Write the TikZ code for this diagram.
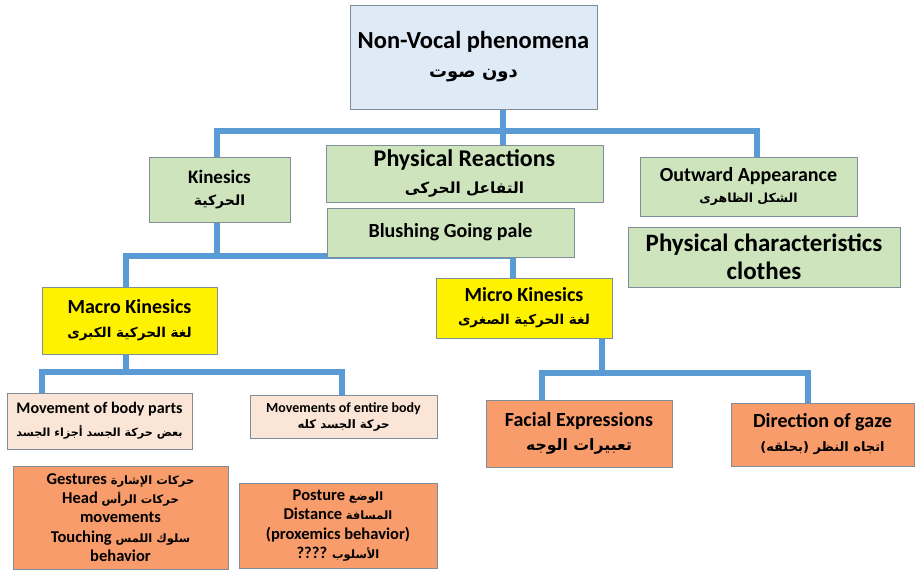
\documentclass[tikz,border=0pt]{standalone}
\usepackage{fontspec}
\setmainfont{Carlito}
\newfontfamily\arfont[Script=Arabic]{DejaVu Sans}
\TeXXeTstate=1
\usetikzlibrary{backgrounds}
% Arabic font at a given size
\newcommand{\arsize}[1]{\arfont\fontsize{#1}{#1}\selectfont\bfseries}
\definecolor{linkblue}{HTML}{5B9BD5}
\definecolor{topfill}{HTML}{DEEBF7}
\definecolor{greenfill}{HTML}{CDE4BD}
\definecolor{peachfill}{HTML}{FBE5D6}
\definecolor{orangefill}{HTML}{F89C6C}
\definecolor{boxline}{HTML}{7F8C9A}

\begin{document}
\begin{tikzpicture}[x=1pt,y=-1pt]
    \tikzstyle{every node}=[align=center,inner sep=2pt]
    \tikzstyle{box}=[draw=boxline,line width=0.9pt]
    \tikzstyle{topbox}=[box,fill=topfill]
    \tikzstyle{greenbox}=[box,fill=greenfill]
    \tikzstyle{yellowbox}=[box,fill=yellow]
    \tikzstyle{peachbox}=[box,fill=peachfill]
    \tikzstyle{orangebox}=[box,fill=orangefill]
    \tikzstyle{link}=[draw=linkblue,line width=6pt]
    \useasboundingbox (0,0) rectangle (918,579);
    % boxes
    \node[topbox,minimum width=247pt,minimum height=104pt,font=\fontsize{24.5}{29}\selectfont\bfseries]
        (top) at (473.5,57) {Non-Vocal phenomena\\ {\arsize{18}\beginR دون صوت\endR}};
    \node[greenbox,minimum width=141pt,minimum height=65pt,font=\fontsize{19}{22}\selectfont\bfseries]
        (kin) at (219.5,189.5) {Kinesics\\ {\arsize{14}\beginR الحركية\endR}};
    \node[greenbox,minimum width=277pt,minimum height=57pt,font=\fontsize{24}{27}\selectfont\bfseries]
        (phys) at (464.5,173.5) {Physical Reactions\\ {\arsize{15.3}\beginR التفاعل الحركى\endR}};
    \node[greenbox,minimum width=247pt,minimum height=49pt,font=\fontsize{20}{24}\selectfont\bfseries]
        (blush) at (450.5,232.5) {Blushing Going pale};
    \node[greenbox,minimum width=217pt,minimum height=59pt,font=\fontsize{20}{21}\selectfont\bfseries]
        (outw) at (748.5,186.5) {Outward Appearance\\ {\arsize{12.5}\beginR الشكل الظاهرى\endR}};
    \node[greenbox,minimum width=272pt,minimum height=60pt,font=\fontsize{25}{28}\selectfont\bfseries]
        (pchar) at (764,257) {Physical characteristics\\ clothes};
    \node[yellowbox,minimum width=175pt,minimum height=67pt,font=\fontsize{20}{24}\selectfont\bfseries]
        (macro) at (129.5,320.5) {Macro Kinesics\\ {\arsize{13.6}\beginR لغة الحركية الكبرى\endR}};
    \node[yellowbox,minimum width=176pt,minimum height=60pt,font=\fontsize{20}{23}\selectfont\bfseries]
        (micro) at (524,308) {Micro Kinesics\\ {\arsize{13.6}\beginR لغة الحركية الصغرى\endR}};
    \node[peachbox,minimum width=185pt,minimum height=56pt,font=\fontsize{16.1}{23}\selectfont\bfseries]
        (bodyp) at (99.5,421) {Movement of body parts\\ {\arsize{11.2}\beginR بعض حركة الجسد أجزاء الجسد\endR}};
    \node[peachbox,minimum width=187pt,minimum height=43pt,font=\fontsize{14}{16}\selectfont\bfseries]
        (entire) at (343.5,416.5) {Movements of entire body\\ {\arsize{11.7}\beginR حركة الجسد كله\endR}};
    \node[orangebox,minimum width=215pt,minimum height=103pt,font=\fontsize{16.5}{19.3}\selectfont\bfseries]
        (gest) at (120.5,517.5) {Gestures {\arsize{11.5}\beginR حركات الإشارة\endR}\\ Head {\arsize{11.5}\beginR حركات الرأس\endR}\\ movements\\ Touching {\arsize{11.5}\beginR سلوك اللمس\endR}\\ behavior};
    \node[orangebox,minimum width=198pt,minimum height=85pt,font=\fontsize{16.5}{19.3}\selectfont\bfseries]
        (post) at (338,525.5) {Posture {\arsize{11.5}\beginR الوضع\endR}\\ Distance {\arsize{11.5}\beginR المسافة\endR}\\ (proxemics behavior)\\ ???? {\arsize{11.5}\beginR الأسلوب\endR}};
    \node[orangebox,minimum width=186pt,minimum height=67pt,font=\fontsize{20}{24}\selectfont\bfseries]
        (facial) at (579,433.5) {Facial Expressions\\ {\arsize{15.7}\beginR تعبيرات الوجه\endR}};
    \node[orangebox,minimum width=183pt,minimum height=63pt,font=\fontsize{20}{24}\selectfont\bfseries]
        (gaze) at (822.5,434.5) {Direction of gaze\\ {\arsize{13}\beginR اتجاه النظر (بحلقه)\endR}};
    % connectors
    \begin{pgfonlayer}{background}
        \coordinate (j1) at (503,131);
        \coordinate (j2) at (217,256);
        \draw[link] (top.south -| j1) -- (phys.north -| j1);
        \draw[link] ([xshift=-2.5pt]kin.north) |- (j1) -| ([xshift=8pt]outw.north);
        \draw[link] ([xshift=-2.5pt]kin.south) -- (j2);
        \draw[link] ([xshift=-3.5pt]macro.north) |- ([xshift=-11pt]micro.north |- j2) -- ([xshift=-11pt]micro.north);
        \draw[link] ([xshift=-3.5pt]macro.south) -- ++(0,18) coordinate (j3);
        \draw[link] ([xshift=-57.5pt]bodyp.north) |- (j3) -| ([xshift=-1.5pt]entire.north);
        \draw[link] ([xshift=78pt]micro.south) -- ++(0,35) coordinate (j4);
        \draw[link] ([xshift=-37pt]facial.north) |- (j4) -| ([xshift=-14.5pt]gaze.north);
    \end{pgfonlayer}
\end{tikzpicture}
\end{document}
